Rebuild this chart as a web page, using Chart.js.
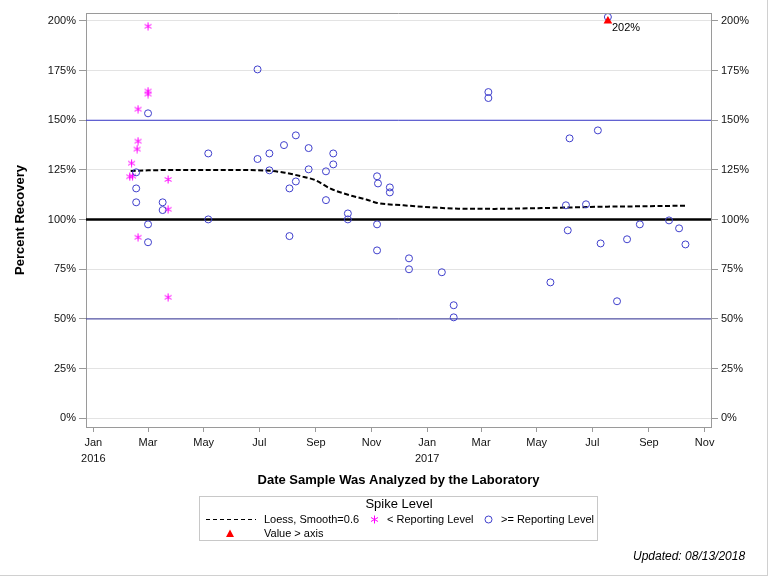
<!DOCTYPE html>
<html><head><meta charset="utf-8">
<script src="https://cdn.jsdelivr.net/npm/chart.js@4.4.0/dist/chart.umd.min.js"></script>
<style>
html,body{margin:0;padding:0;background:#fff;}
#wrap{position:relative;width:768px;height:576px;overflow:hidden;font-family:"Liberation Sans",Arial,sans-serif;color:#000;}
#wrap:after{content:"";position:absolute;left:0;top:0;width:767px;height:575px;border-right:1px solid #d0d0d0;border-bottom:1px solid #d0d0d0;pointer-events:none;}
canvas#c{position:absolute;left:0;top:0;}
.t{position:absolute;white-space:nowrap;font-size:11px;line-height:14px;}
#legbox{position:absolute;left:199px;top:496px;width:397px;height:43px;border:1px solid #c8c8c8;}
#legtitle{position:absolute;left:199px;top:496px;width:400px;text-align:center;font-size:13px;line-height:16px;}
#footer{position:absolute;left:633px;top:549px;font-size:12px;line-height:14px;font-style:italic;white-space:nowrap;}
svg#legsvg{position:absolute;left:0;top:0;pointer-events:none;}
</style></head><body>
<div id="wrap">
<canvas id="c" width="768" height="576"></canvas>
<div id="legbox"></div>
<div id="legtitle">Spike Level</div>
<div class="t" style="left:264px;top:512px;">Loess, Smooth=0.6</div>
<div class="t" style="left:387px;top:512px;">&lt; Reporting Level</div>
<div class="t" style="left:501px;top:512px;">&gt;= Reporting Level</div>
<div class="t" style="left:264px;top:526px;">Value &gt; axis</div>
<svg id="legsvg" width="768" height="576">
  <line x1="206" y1="519.5" x2="256" y2="519.5" stroke="#000" stroke-width="1" stroke-dasharray="4 3"/>
  <g stroke="#ff00ff" stroke-width="1">
    <line x1="374.5" y1="515.5" x2="374.5" y2="523.5"/>
    <line x1="371" y1="517.5" x2="378" y2="521.5"/>
    <line x1="371" y1="521.5" x2="378" y2="517.5"/>
  </g>
  <circle cx="488.5" cy="519.5" r="3.5" fill="none" stroke="#3f3fcc" stroke-width="1"/>
  <polygon points="230,529.5 234,537 226,537" fill="#ff0000"/>
</svg>
<div id="footer">Updated: 08/13/2018</div>
</div>
<script>
// ---------------- DATA ----------------
const belowRLDates = ["2016-02-10","2016-02-13","2016-02-12","2016-02-18","2016-02-19","2016-02-19","2016-02-19",
  "2016-03-01","2016-03-01","2016-03-01","2016-03-23","2016-03-23","2016-03-23"];
const belowRLValues = [121.6,121.9,128.4,135.5,155.6,139.5,91.1,197.3,164.7,163.2,120.2,105.2,60.9];

const aboveRLDates = ["2016-02-17","2016-02-17","2016-02-17","2016-03-01","2016-03-01","2016-03-01",
  "2016-03-17","2016-03-17","2016-05-06","2016-05-06","2016-06-29","2016-06-29","2016-07-12","2016-07-12",
  "2016-07-28","2016-08-03","2016-08-03","2016-08-10","2016-08-10","2016-08-24","2016-08-24",
  "2016-09-12","2016-09-12","2016-09-20","2016-09-20","2016-10-06","2016-10-06",
  "2016-11-07","2016-11-08","2016-11-07","2016-11-07","2016-11-21","2016-11-21","2016-12-12","2016-12-12",
  "2017-01-17","2017-01-30","2017-01-30","2017-03-09","2017-03-09","2017-05-16","2017-06-02","2017-06-04",
  "2017-06-06","2017-06-24","2017-07-07","2017-07-10","2017-07-18","2017-07-28","2017-08-08","2017-08-22",
  "2017-09-23","2017-10-04","2017-10-11"];
const aboveRLValues = [123.8,115.7,108.7,153.5,97.6,88.6,
  108.7,104.8,133.3,100.1,175.6,130.5,133.3,124.8,
  137.5,115.7,91.7,142.4,119.2,136.0,125.3,
  124.3,109.8,133.3,127.8,103.1,100.1,
  121.8,118.2,97.6,84.5,116.2,113.7,80.5,75.0,
  73.5,56.9,50.8,164.2,161.2,68.4,107.2,94.6,
  140.9,107.7,144.9,88.0,202.0,58.9,90.1,97.6,
  99.6,95.6,87.5];

const loessDates = ["2016-02-11","2016-03-01","2016-04-10","2016-05-30","2016-07-09","2016-07-29","2016-08-15",
  "2016-08-31","2016-09-17","2016-10-07","2016-10-27","2016-11-07","2016-12-06","2017-01-05","2017-02-04",
  "2017-03-16","2017-04-25","2017-06-04","2017-07-14","2017-08-23","2017-10-11"];
const loessValues = [124.5,124.8,125.0,125.0,124.7,123.6,121.9,119.9,115.6,112.4,110.0,108.4,107.2,106.2,105.5,
  105.4,105.7,106.1,106.5,106.7,107.0];

const overAxisDates = ["2017-07-18"];
const overAxisValues = [202];
const axisCap = 200;

const xTickDates = ["2016-01-01","2016-03-01","2016-05-01","2016-07-01","2016-09-01","2016-11-01",
  "2017-01-01","2017-03-01","2017-05-01","2017-07-01","2017-09-01","2017-11-01"];
const xTickLabels = [["Jan","2016"],"Mar","May","Jul","Sep","Nov",["Jan","2017"],"Mar","May","Jul","Sep","Nov"];
const yTickValues = [0,25,50,75,100,125,150,175,200];
const refLines = [
  {value:150, color:"#3a3acc", width:1},
  {value:50, color:"#33339a", width:1},
  {value:100, color:"#000000", width:2.5}
];
const xMinDate = "2015-12-24", xMaxDate = "2017-11-08";
const yMin = -4.4, yMax = 204;

// ---------------- HELPERS ----------------
const DAY = 86400000, T0 = Date.UTC(2016,0,1);
function toDay(s){ const [y,m,d] = s.split('-').map(Number); return (Date.UTC(y,m-1,d)-T0)/DAY; }
function pts(dates, vals){ return dates.map((d,i)=>({x:toDay(d), y:vals[i]})); }
function makeStar(color){
  const c = document.createElement('canvas'); c.width = 9; c.height = 9;
  const g = c.getContext('2d'); g.strokeStyle = color; g.lineWidth = 1;
  g.beginPath();
  g.moveTo(4.5,0.5); g.lineTo(4.5,8.5);
  g.moveTo(1,2.5); g.lineTo(8,6.5);
  g.moveTo(1,6.5); g.lineTo(8,2.5);
  g.stroke(); return c;
}
const FONT = "'Liberation Sans', Arial, sans-serif";
const TXT = '#111';

const decoPlugin = {
  id:'deco',
  beforeDatasetsDraw(chart){
    const {ctx, chartArea:a, scales:{y}} = chart;
    ctx.save();
    refLines.forEach(r=>{
      const py = y.getPixelForValue(r.value);
      ctx.strokeStyle = r.color; ctx.lineWidth = r.width;
      ctx.beginPath(); ctx.moveTo(a.left, py); ctx.lineTo(a.right, py); ctx.stroke();
    });
    ctx.restore();
  },
  afterDatasetsDraw(chart){
    const {ctx, scales:{x,y}} = chart;
    ctx.save();
    ctx.fillStyle = '#000'; ctx.font = "11px " + FONT; ctx.textBaseline = 'middle'; ctx.textAlign = 'left';
    overAxisDates.forEach((d,i)=>{
      const px = x.getPixelForValue(toDay(d)), py = y.getPixelForValue(Math.min(overAxisValues[i], axisCap));
      ctx.fillText(overAxisValues[i] + '%', px + 4, py + 7);
    });
    ctx.restore();
  },
  afterDraw(chart){
    const {ctx, chartArea:a} = chart;
    ctx.save(); ctx.strokeStyle = '#9a9a9a'; ctx.lineWidth = 1;
    ctx.beginPath(); ctx.moveTo(a.left, a.top + 0.5); ctx.lineTo(a.right, a.top + 0.5); ctx.stroke();
    ctx.restore();
  }
};

const yTicksCommon = {
  color: TXT, font:{family:FONT, size:11}, padding:3,
  callback: v => v + '%'
};

new Chart(document.getElementById('c'), {
  data:{
    datasets:[
      { type:'line', label:'Loess, Smooth=0.6', data: pts(loessDates, loessValues),
        borderColor:'#000', borderWidth:2, borderDash:[5,2.5], pointRadius:0, fill:false,
        cubicInterpolationMode:'monotone', order:3 },
      { type:'scatter', label:'< Reporting Level', data: pts(belowRLDates, belowRLValues),
        pointStyle: makeStar('#ff00ff'), pointRadius:4.5, order:2 },
      { type:'scatter', label:'>= Reporting Level', data: pts(aboveRLDates, aboveRLValues),
        pointStyle:'circle', pointRadius:3.5, borderColor:'#3f3fcc', backgroundColor:'rgba(0,0,0,0)', borderWidth:1, order:1 },
      { type:'scatter', label:'Value > axis', data: overAxisDates.map((d,i)=>({x:toDay(d), y:Math.min(overAxisValues[i], axisCap)})),
        pointStyle:'triangle', pointRadius:5, borderColor:'#ff0000', backgroundColor:'#ff0000', borderWidth:0, order:0 }
    ]
  },
  options:{
    responsive:false, animation:false, devicePixelRatio:1,
    layout:{ padding:{ top:13, left:0, right:0, bottom:86 } },
    plugins:{ legend:{display:false}, tooltip:{enabled:false} },
    elements:{ line:{ tension:0.4 } },
    scales:{
      x:{
        type:'linear', position:'bottom', min: toDay(xMinDate), max: toDay(xMaxDate),
        afterBuildTicks: s => { s.ticks = xTickDates.map(d=>({value:toDay(d)})); },
        afterFit: s => { s.height = 63; },
        ticks:{ color:TXT, font:{family:FONT, size:11, lineHeight:1.45}, padding:3, autoSkip:false, maxRotation:0,
          callback:(v,i)=> xTickLabels[i] },
        grid:{ drawOnChartArea:false, drawTicks:true, tickLength:5, tickColor:'#9a9a9a' },
        border:{ display:true, color:'#9a9a9a', width:1 },
        title:{ display:true, text:'Date Sample Was Analyzed by the Laboratory', color:'#000',
          font:{family:FONT, size:13, weight:'bold'}, padding:{top:0, bottom:2} }
      },
      y:{
        type:'linear', position:'left', min:yMin, max:yMax,
        afterBuildTicks: s => { s.ticks = yTickValues.map(v=>({value:v})); },
        afterFit: s => { s.width = 86; },
        ticks: yTicksCommon,
        grid:{ drawOnChartArea:true, color:'#e3e3e3', lineWidth:1, drawTicks:true, tickLength:7, tickColor:'#9a9a9a' },
        border:{ display:true, color:'#9a9a9a', width:1 },
        title:{ display:true, text:'Percent Recovery', color:'#000',
          font:{family:FONT, size:13, weight:'bold'}, padding:{top:13, bottom:0} }
      },
      y2:{
        type:'linear', position:'right', min:yMin, max:yMax,
        afterBuildTicks: s => { s.ticks = yTickValues.map(v=>({value:v})); },
        afterFit: s => { s.width = 57; },
        ticks: yTicksCommon,
        grid:{ drawOnChartArea:false, drawTicks:true, tickLength:7, tickColor:'#9a9a9a' },
        border:{ display:true, color:'#9a9a9a', width:1 }
      }
    }
  },
  plugins:[decoPlugin]
});
</script>
</body></html>
